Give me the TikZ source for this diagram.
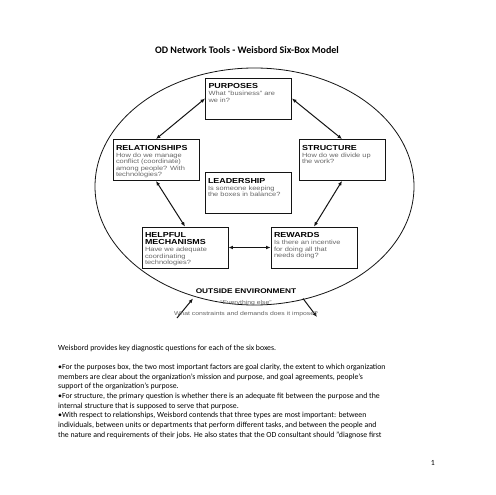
\documentclass[tikz,border=0pt]{standalone}
\usepackage{fontspec}
\setmainfont{Carlito}
\newfontfamily\boxfont[FakeStretch=1.22]{Liberation Sans}
\usetikzlibrary{arrows.meta}
\definecolor{RichBlack}{gray}{0.08}
\definecolor{AskGray}{gray}{0.4}
\newcommand{\headfont}{\boxfont\bfseries\fontsize{7.3}{7.3}\selectfont}
\newcommand{\askfont}{\boxfont\fontsize{6.1}{6.5}\selectfont\color{AskGray}}
\newcommand{\boxlabel}[2]{%
  \parbox[c][41pt][t]{80pt}{\vspace*{5.5pt}{\headfont #1\par}\vspace{0.6pt}{\askfont #2\par}}}
\tikzset{%
  sixbox/.style={%
    rectangle,%
    draw=RichBlack,%
    line width=0.9pt,%
    minimum width=86pt,%
    minimum height=41pt,%
    inner xsep=3pt,%
    inner ysep=0pt,%
    fill=white,%
  },
  link/.style={%
    color=RichBlack,%
    line width=1pt,%
    {Latex[length=4.5pt,width=3.8pt]}-{Latex[length=4.5pt,width=3.8pt]},%
  },
  oneway/.style={%
    color=RichBlack,%
    line width=1pt,%
    -{Latex[length=4.5pt,width=3.8pt]},%
  },
  bodyline/.style={%
    anchor=base west,%
    inner sep=0pt,%
    font={\fontsize{7.8}{9.7}\selectfont},%
  },
}

\begin{document}
\begin{tikzpicture}[x=1pt, y=-1pt]
  \useasboundingbox (0,0) rectangle (495,495);
  \fill [white] (0,0) rectangle (495,495);

  \node [inner sep=0pt, anchor=base, font={\bfseries\fontsize{10}{12}\selectfont}]
    (title) at (247,54) {OD Network Tools - Weisbord Six-Box Model};

  \draw [RichBlack, line width=0.8pt] (254.5,186.5) ellipse [x radius=159.5, y radius=118.5];

  \node [sixbox] (purposes) at (248.5,98.5)
    {\boxlabel{PURPOSES}{What \textquotedblleft business\textquotedblright\ are\\we in?}};
  \node [sixbox] (relationships) at (156,160)
    {\boxlabel{RELATIONSHIPS}{How do we manage\\conflict (coordinate)\\among people? With\\technologies?}};
  \node [sixbox] (structure) at (342,160)
    {\boxlabel{STRUCTURE}{How do we divide up\\the work?}};
  \node [sixbox] (leadership) at (248,193)
    {\boxlabel{LEADERSHIP}{Is someone keeping\\the boxes in balance?}};
  \node [sixbox] (helpful) at (185,247.5)
    {\boxlabel{HELPFUL\\MECHANISMS}{Have we adequate\\coordinating\\technologies?}};
  \node [sixbox] (rewards) at (314,247.5)
    {\boxlabel{REWARDS}{Is there an incentive\\for doing all that\\needs doing?}};

  \draw [link] (purposes.west) -- (relationships.north);
  \draw [link] (purposes.east) -- (structure.north);
  \draw [link] (relationships.south) -- (helpful.north);
  \draw [link] (structure.south) -- (rewards.north);
  \draw [link] (helpful.east) -- (rewards.west);

  \coordinate (env_in) at (177,318);
  \coordinate (env_in_tip) at (193,298.5);
  \coordinate (env_out) at (303,298.5);
  \coordinate (env_out_tip) at (317,317);
  \draw [oneway] (env_in) -- (env_in_tip);
  \draw [oneway] (env_out) -- (env_out_tip);

  \node [inner sep=0pt, anchor=base, align=center] (outside) at (246,315.5)
    {{\boxfont\bfseries\fontsize{6.8}{6.8}\selectfont OUTSIDE ENVIRONMENT}\\[-1.6pt]
     {\boxfont\fontsize{5.6}{5.6}\selectfont\color{AskGray}\textquotedblleft Everything else\textquotedblright}\\[-0.6pt]
     {\boxfont\fontsize{5.6}{5.6}\selectfont\color{AskGray}What constraints and demands does it impose?}};

  \foreach \txt [count=\i from 0] in {%
      {Weisbord provides key diagnostic questions for each of the six boxes.},
      {},
      {•For the purposes box, the two most important factors are goal clarity, the extent to which organization},
      {members are clear about the organization’s mission and purpose, and goal agreements, people’s},
      {support of the organization’s purpose.},
      {•For structure, the primary question is whether there is an adequate fit between the purpose and the},
      {internal structure that is supposed to serve that purpose.},
      {•With respect to relationships, Weisbord contends that three types are most important: between},
      {individuals, between units or departments that perform different tasks, and between the people and},
      {the nature and requirements of their jobs. He also states that the OD consultant should ”diagnose first}%
    }
    \node [bodyline] (line\i) at (58,350+9.67*\i) {\txt};

  \node [bodyline, anchor=base east] (pagenum) at (435,465) {1};
\end{tikzpicture}
\end{document}
